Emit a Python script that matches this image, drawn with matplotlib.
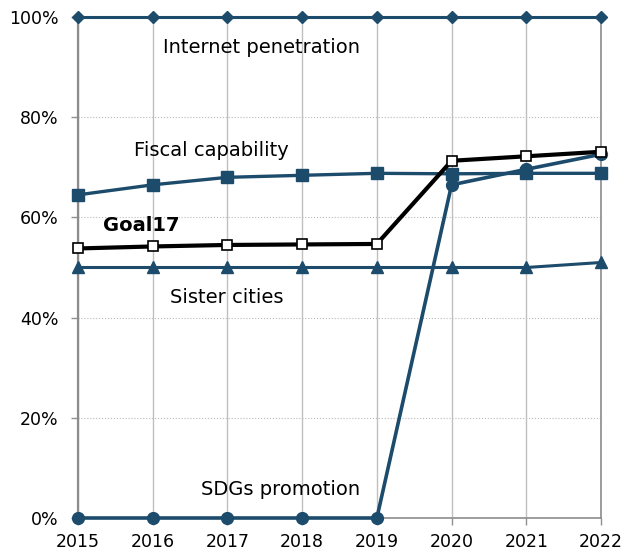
import matplotlib
matplotlib.use("Agg")
import matplotlib.pyplot as plt
from matplotlib.ticker import PercentFormatter

plt.rcParams['font.family'] = ['DejaVu Sans']

years = [2015, 2016, 2017, 2018, 2019, 2020, 2021, 2022]
internet = [100, 100, 100, 100, 100, 100, 100, 100]
fiscal = [64.5, 66.5, 68.0, 68.4, 68.8, 68.7, 68.8, 68.8]
goal17 = [53.8, 54.2, 54.5, 54.6, 54.7, 71.3, 72.2, 73.1]
sister = [50, 50, 50, 50, 50, 50, 50, 51]
sdgs = [0, 0, 0, 0, 0, 66.5, 69.6, 72.6]
yticks = [0, 20, 40, 60, 80, 100]

blue = '#1c4b6c'
fig = plt.figure(figsize=(6.23, 5.52), dpi=100)
ax = fig.add_axes([0.1252, 0.0616, 0.8395, 0.9076])

ax.plot(years, internet, color=blue, lw=2.2, marker='D', ms=6, clip_on=False, zorder=3)
ax.plot(years, fiscal, color=blue, lw=2.4, marker='s', ms=8.5, clip_on=False, zorder=3)
ax.plot(years, sister, color=blue, lw=2.2, marker='^', ms=8, clip_on=False, zorder=3)
ax.plot(years, sdgs, color=blue, lw=2.6, marker='o', ms=8.5, clip_on=False, zorder=3)
ax.plot(years, goal17, color='black', lw=3, marker='s', ms=7.5, mfc='white', mec='black', mew=1.2, clip_on=False, zorder=4)

ax.set_xlim(2015, 2022)
ax.set_ylim(0, 100)
ax.set_xticks(years)
ax.set_yticks(yticks)
ax.yaxis.set_major_formatter(PercentFormatter(decimals=0))
ax.tick_params(axis='both', labelsize=12.5, colors='#909090', labelcolor='black', length=5, width=1)
ax.tick_params(axis='y', pad=9)
ax.tick_params(axis='x', pad=6)

ax.grid(axis='x', color='#c0c0c0', lw=1, ls='-')
ax.grid(axis='y', color='#b8b8b8', lw=0.8, ls=':')
ax.set_axisbelow(True)
ax.spines['top'].set_visible(False)
ax.spines['left'].set_color('#8c8c8c')
ax.spines['left'].set_linewidth(1.6)
ax.spines['bottom'].set_color('#8c8c8c')
ax.spines['bottom'].set_linewidth(1.2)
ax.spines['right'].set_color('#8c8c8c')
ax.spines['right'].set_linewidth(1.2)

fs = 14
ax.text(2017.45, 94, 'Internet penetration', fontsize=fs, ha='center', va='center')
ax.text(2016.78, 73.4, 'Fiscal capability', fontsize=fs, ha='center', va='center')
ax.text(2015.84, 58.3, 'Goal17', fontsize=fs, ha='center', va='center', fontweight='bold')
ax.text(2016.99, 44.1, 'Sister cities', fontsize=fs, ha='center', va='center')
ax.text(2017.71, 5.6, 'SDGs promotion', fontsize=fs, ha='center', va='center')

fig.savefig('out.png', dpi=100)
